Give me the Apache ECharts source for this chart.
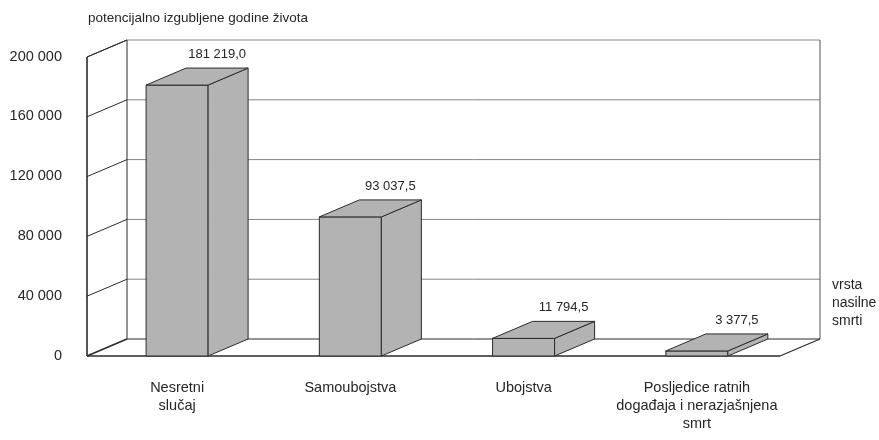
<!DOCTYPE html>
<html>
<head>
<meta charset="utf-8">
<script src="https://cdn.jsdelivr.net/npm/echarts@6/dist/echarts.min.js"></script>
<style>
  html, body { margin: 0; padding: 0; background: #fff; }
  #chart { width: 879px; height: 440px; }
</style>
</head>
<body>
<div id="chart"></div>
<script>
// Potencijalno izgubljene godine života po vrsti nasilne smrti
const categories = [
  'Nesretni\nslučaj',
  'Samoubojstva',
  'Ubojstva',
  'Posljedice ratnih\ndogađaja i nerazjašnjena\nsmrt'
];
const lostYears = [181219.0, 93037.5, 11794.5, 3377.5];
const valueLabels = ['181 219,0', '93 037,5', '11 794,5', '3 377,5'];
const yTicks = [0, 40000, 80000, 120000, 160000, 200000];
const yTickLabels = ['0', '40 000', '80 000', '120 000', '160 000', '200 000'];

const yAxisTitle = 'potencijalno izgubljene godine života';
const xAxisTitle = 'vrsta\nnasilne\nsmrti';

// Perspective offset of the back plane relative to the front plane
const DX = 40, DY = -17;
const FONT = "'Liberation Sans', Arial, sans-serif";
const TEXT = '#262626';
const BAR_FILL = '#b3b3b3';
const EDGE = '#2b2b2b';

const chart = echarts.init(document.getElementById('chart'), null, { renderer: 'canvas' });

// Back-wall grid lines and the matching diagonals on the left wall
function renderGridLine(params, api) {
  const v = api.value(0);
  const cs = params.coordSys;
  const y = api.coord([0, v])[1];
  const xl = cs.x, xr = cs.x + cs.width;
  const children = [];
  if (v > 0) {
    children.push({
      type: 'line',
      shape: { x1: xl + DX, y1: y + DY, x2: xr + DX, y2: y + DY },
      style: { stroke: '#858585', lineWidth: 1 }
    });
    children.push({
      type: 'line',
      shape: { x1: xl, y1: y, x2: xl + DX, y2: y + DY },
      style: { stroke: EDGE, lineWidth: 1 }
    });
  }
  return { type: 'group', children };
}

// Walls and floor outline
function renderFrame(params, api) {
  const cs = params.coordSys;
  const xl = cs.x, xr = cs.x + cs.width;
  const yb = api.coord([0, yTicks[0]])[1];
  const yt = api.coord([0, yTicks[yTicks.length - 1]])[1];
  const line = (x1, y1, x2, y2, stroke, w) => ({
    type: 'line', shape: { x1, y1, x2, y2 }, style: { stroke, lineWidth: w }
  });
  return {
    type: 'group',
    children: [
      // back wall left and right edges, back floor edge
      line(xl + DX, yt + DY, xl + DX, yb + DY, EDGE, 1),
      line(xr + DX, yt + DY, xr + DX, yb + DY, '#555', 1),
      line(xl + DX, yb + DY, xr + DX, yb + DY, EDGE, 1),
      // left wall front edge and top
      line(xl, yt, xl, yb, EDGE, 1.6),
      line(xl, yt, xl + DX, yt + DY, EDGE, 1),
      // floor front edge and sides
      line(xl, yb, xr, yb, EDGE, 1.6),
      line(xl, yb, xl + DX, yb + DY, EDGE, 1.6),
      line(xr, yb, xr + DX, yb + DY, EDGE, 1.2)
    ]
  };
}

// 3D box for each category
function renderBar(params, api) {
  const i = api.value(0), v = api.value(1);
  const base = api.coord([i, 0]);
  const top = api.coord([i, v]);
  const band = api.size([1, 0])[0];
  const w = band * 0.358;
  const cx = base[0] + band * 0.02;
  const x0 = cx - w / 2, x1 = cx + w / 2;
  const y0 = base[1], y1 = top[1];
  const st = { fill: BAR_FILL, stroke: EDGE, lineWidth: 1, lineJoin: 'round' };
  const idx = params.dataIndex;
  return {
    type: 'group',
    children: [
      { type: 'polygon', shape: { points: [[x0, y0], [x1, y0], [x1, y1], [x0, y1]] }, style: st },
      { type: 'polygon', shape: { points: [[x1, y0], [x1 + DX, y0 + DY], [x1 + DX, y1 + DY], [x1, y1]] }, style: st },
      { type: 'polygon', shape: { points: [[x0, y1], [x1, y1], [x1 + DX, y1 + DY], [x0 + DX, y1 + DY]] }, style: st },
      {
        type: 'text',
        style: {
          x: cx + DX, y: y1 + DY - 7,
          text: valueLabels[idx],
          fill: TEXT, font: '13px ' + FONT,
          align: 'center', verticalAlign: 'bottom'
        }
      }
    ]
  };
}

chart.setOption({
  animation: false,
  backgroundColor: '#ffffff',
  grid: { left: 87, top: 57, width: 693, height: 299, containLabel: false },
  xAxis: {
    type: 'category',
    data: categories,
    axisLine: { show: false },
    axisTick: { show: false },
    axisLabel: {
      margin: 23, fontSize: 14.5, fontFamily: FONT, color: TEXT,
      lineHeight: 18, interval: 0, padding: [0, 0, 0, 7]
    }
  },
  yAxis: {
    type: 'value',
    min: 0, max: 200000, interval: 40000,
    axisLine: { show: false },
    axisTick: { show: false },
    splitLine: { show: false },
    axisLabel: {
      margin: 25, fontSize: 14.5, fontFamily: FONT, color: TEXT,
      formatter: (val) => yTickLabels[yTicks.indexOf(val)],
      verticalAlign: 'bottom', padding: [0, 0, -7, 0]
    }
  },
  graphic: [
    { type: 'text', left: 88, top: 11, style: { text: yAxisTitle, font: '13.5px ' + FONT, fill: TEXT } },
    { type: 'text', left: 832, top: 276, style: { text: xAxisTitle, font: '14px ' + FONT, fill: TEXT, lineHeight: 18 } }
  ],
  series: [
    {
      type: 'custom', z: 1, silent: true,
      renderItem: renderGridLine,
      data: yTicks.map(v => [v])
    },
    {
      type: 'custom', z: 2, silent: true,
      renderItem: renderFrame,
      data: [[0]]
    },
    {
      type: 'custom', z: 3,
      renderItem: renderBar,
      encode: { x: 0, y: 1 },
      data: lostYears.map((v, i) => [i, v])
    }
  ]
});
</script>
</body>
</html>
